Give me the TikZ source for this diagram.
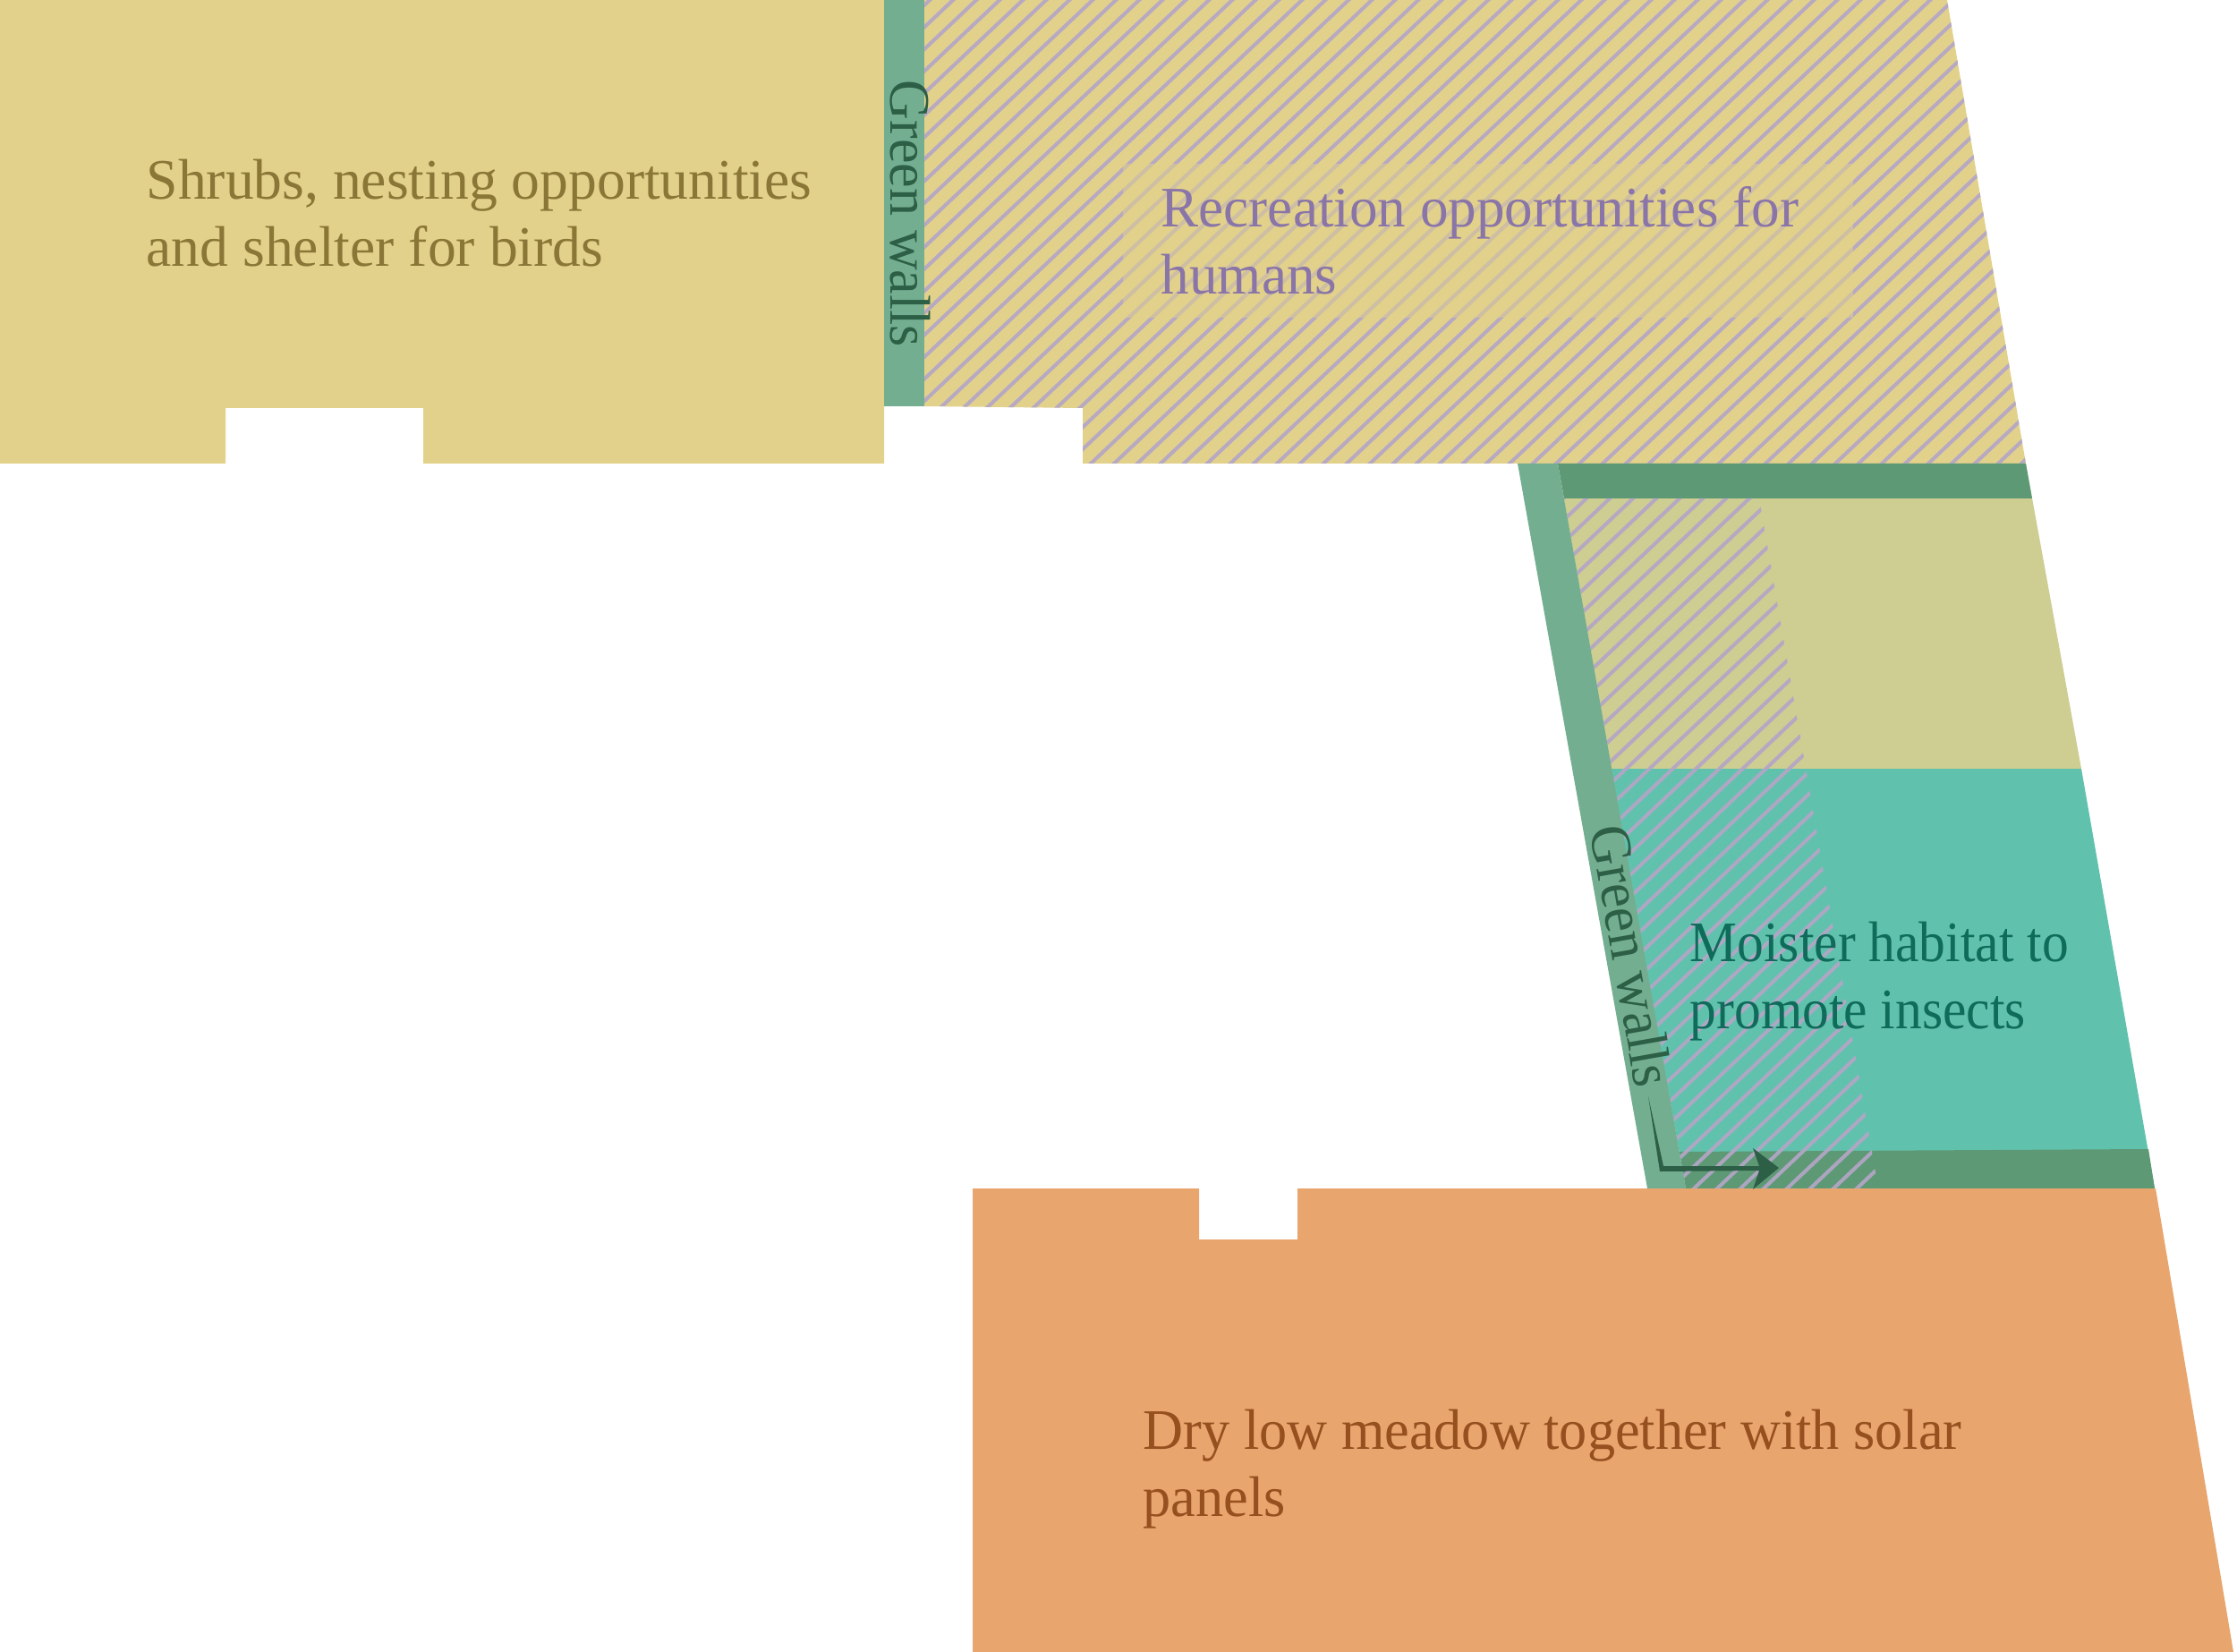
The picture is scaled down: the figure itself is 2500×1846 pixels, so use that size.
\documentclass[tikz,border=0pt]{standalone}
\usepackage{fontspec}
\setmainfont{Liberation Serif}
\definecolor{sandy}{HTML}{E2D18B}
\definecolor{wallg}{HTML}{74AE90}
\definecolor{darkg}{HTML}{5E9976}
\definecolor{tealz}{HTML}{60C2AD}
\definecolor{olivez}{HTML}{CECD92}
\definecolor{orangez}{HTML}{E8A56E}
\definecolor{hatchc}{HTML}{B3A6C6}
\definecolor{tsand}{HTML}{8A7636}
\definecolor{tpurple}{HTML}{8A75A8}
\definecolor{tteal}{HTML}{0F6B5A}
\definecolor{torange}{HTML}{964F1F}
\definecolor{tgreen}{HTML}{2C5F45}
\tikzset{
  zonetext/.style={inner sep=0pt,anchor=west,align=left,font=\fontsize{18.2pt}{21.3pt}\selectfont\addfontfeatures{FakeStretch=#1}},
  walltext/.style={inner sep=0pt,text=tgreen,font=\fontsize{18.2pt}{21.3pt}\selectfont\addfontfeatures{FakeStretch=#1}},
  hatchline/.style={draw=hatchc,line width=1.15pt,opacity=.93}
}
\begin{document}
\begin{tikzpicture}[x=0.01cm,y=-0.01cm]
\useasboundingbox (0,0) rectangle (2500,1846);
% shrubs
\fill[sandy] (0,0) -- (988,0) -- (988,518) -- (473,518) -- (473,456) -- (252,456) -- (252,518) -- (0,518) -- cycle;
% green wall top
\fill[wallg] (988,0) rectangle (1033,454);
% recreation
\fill[sandy] (1033,0) -- (2176,0) -- (2264,518) -- (1210,518) -- (1210,456) -- (1033,454) -- cycle;
\begin{scope}
\clip (1033,0) -- (2176,0) -- (2264,518) -- (1210,518) -- (1210,456) -- (1033,454) -- cycle;
\foreach \i in {0,...,100}
  \draw[hatchline] ({1713+26*(\i-60)-470/.945},{518+470}) -- ({1713+26*(\i-60)+530/.945},{518-530});
\end{scope}
\fill[sandy,opacity=.53] (1255,183) rectangle (2071,355);
% right column
\fill[olivez] (1741,518) -- (2264,518) -- (2326,859) -- (1800,859) -- cycle;
\fill[tealz] (1800,859) -- (2326,859) -- (2408,1328) -- (1884,1328) -- cycle;
\fill[darkg] (1741,518) -- (2264,518) -- (2271,557) -- (1748,557) -- cycle;
\fill[darkg] (1877,1287) -- (2401,1284) -- (2408,1328) -- (1884,1328) -- cycle;
\begin{scope}
\clip (1748,557) -- (1966,557) -- (2099,1328) -- (1884,1328) -- cycle;
\foreach \i in {0,...,70}
  \draw[hatchline] ({1799+26*(\i-20)-900/.945},{557+900}) -- ({1799+26*(\i-20)+300/.945},{557-300});
\end{scope}
\fill[wallg] (1696,518) -- (1741,518) -- (1884,1328) -- (1841,1328) -- cycle;
% orange
\fill[orangez] (1087,1328) -- (1340,1328) -- (1340,1385) -- (1450,1385) -- (1450,1328) -- (2409,1328) -- (2496,1846) -- (1087,1846) -- cycle;
% arrow
\fill[tgreen] (1842,1225) -- (1859,1303) -- (1966,1303) -- (1959,1283) -- (1988,1305) -- (1959,1329) -- (1966,1308) -- (1855,1309) -- cycle;
% texts
\node[zonetext=.994,text=tsand] (shrubs) at (163,238) {Shrubs, nesting opportunities\\and shelter for birds};
\node[zonetext=.987,text=tpurple] (recre) at (1297,269) {Recreation opportunities for\\humans};
\node[zonetext=.93,text=tteal] (moist) at (1888,1097) {Moister habitat to\\promote insects};
\node[zonetext=.973,text=torange] (meadow) at (1277,1642) {Dry low meadow together with solar\\panels};
\node[walltext=.97,rotate=-90] (gw1) at (1017,239) {Green walls};
\node[walltext=.96,rotate=-80] (gw2) at (1824,1068) {Green walls};
\end{tikzpicture}
\end{document}
